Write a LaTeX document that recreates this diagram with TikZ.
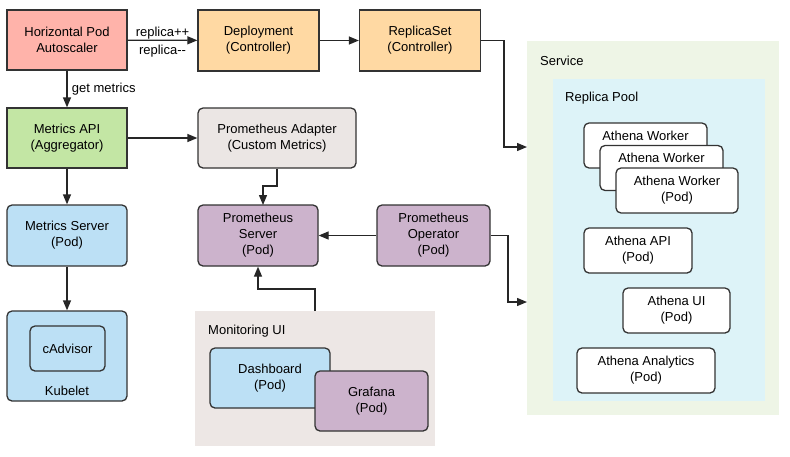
\documentclass[tikz,border=0pt]{standalone}
\usepackage{fontspec}
\setmainfont{Liberation Sans}
\usepackage{tikz}
\usetikzlibrary{arrows.meta}

\definecolor{hpared}{HTML}{FFB3AA}
\definecolor{ctrlorange}{HTML}{FFD9A3}
\definecolor{aggrgreen}{HTML}{C3E6A4}
\definecolor{adaptgray}{HTML}{EBE6E4}
\definecolor{podblue}{HTML}{BCE0F5}
\definecolor{prompurple}{HTML}{CCB3CC}
\definecolor{monigray}{HTML}{EDE7E5}
\definecolor{svcgreen}{HTML}{EEF5E6}
\definecolor{poolblue}{HTML}{DDF3F8}
\definecolor{edgegray}{HTML}{333333}

\begin{document}
\begin{tikzpicture}[x=1pt,y=-1pt,font=\fontsize{13}{16}\selectfont,
  blk/.style n args={3}{fill=#1,minimum width=#2,minimum height=#3,draw=edgegray,line width=1.3pt,align=center,rectangle},
  pod/.style n args={3}{blk={#1}{#2}{#3},rounded corners=5pt},
  conn/.style={draw=black!85,line width=1.3pt,-{Triangle[length=10pt,width=8pt]}},
  lbl/.style={inner sep=0pt,anchor=west}]
\useasboundingbox[fill=white] (0,0) rectangle (790,456);
% containers
\fill[svcgreen] (527,41) rectangle (779,415);
\fill[poolblue] (553,79) rectangle (765,401);
\fill[monigray] (195,311) rectangle (435,446);
\node[lbl] (svclbl) at (540,61) {Service};
\node[lbl] (poollbl) at (565,98) {Replica Pool};
\node[lbl] (monilbl) at (208,331) {Monitoring UI};
% control path
\node[blk={hpared}{120pt}{60pt}] (hpa) at (67,40) {Horizontal Pod\\Autoscaler};
\node[blk={ctrlorange}{121pt}{61pt}] (deploy) at (258.5,40.5) {Deployment\\(Controller)};
\node[blk={ctrlorange}{121pt}{61pt}] (rset) at (420,40.5) {ReplicaSet\\(Controller)};
\node[blk={aggrgreen}{120pt}{60pt}] (mapi) at (67,138) {Metrics API\\(Aggregator)};
\node[pod={adaptgray}{158pt}{60pt}] (padapt) at (277,138) {Prometheus Adapter\\(Custom Metrics)};
\node[pod={podblue}{120pt}{61pt}] (mserver) at (67,235.5) {Metrics Server\\(Pod)};
\node[pod={podblue}{120pt}{90pt}] (kubelet) at (67,356) {};
\node[pod={podblue}{75pt}{45pt}] (cadv) at (67.5,348.5) {cAdvisor};
\node (kubeletlbl) at (67,391) {Kubelet};
\node[pod={prompurple}{120pt}{61pt}] (pserver) at (258,235.5) {Prometheus\\Server\\(Pod)};
\node[pod={prompurple}{113pt}{61pt}] (poper) at (433.5,235.5) {Prometheus\\Operator\\(Pod)};
\node[pod={podblue}{120pt}{60pt}] (dash) at (270,378) {Dashboard\\(Pod)};
\node[pod={prompurple}{113pt}{60pt}] (grafana) at (371.5,401) {Grafana\\(Pod)};
% replica pool
\node[pod={white}{123pt}{45pt}] (wk1) at (645.5,145.5) {};
\node (wk1txt) at (645.5,135.5) {Athena Worker};
\node[pod={white}{123pt}{45pt}] (wk2) at (661.5,168) {};
\node (wk2txt) at (661.5,158) {Athena Worker};
\node[pod={white}{122pt}{45pt}] (wk3) at (677,190.5) {Athena Worker\\(Pod)};
\node[pod={white}{108pt}{45pt}] (api) at (638,250.5) {Athena API\\(Pod)};
\node[pod={white}{107pt}{45pt}] (aui) at (676.5,310.5) {Athena UI\\(Pod)};
\node[pod={white}{138pt}{45pt}] (analytics) at (646,370.5) {Athena Analytics\\(Pod)};
% connectors
\coordinate (svcin1) at (527,147);
\coordinate (svcin2) at (527,302);
\draw[conn] (hpa) -- (deploy)
  node[pos=0.5,above=-3pt] (plus) {replica++}
  node[pos=0.5,below=1pt] (minus) {replica-{}-};
\draw[conn] (deploy) -- (rset);
\draw[conn] (rset.east) -| (504,147) -- (svcin1);
\draw[conn] (hpa) -- node[right=1pt] (getm) {get metrics} (mapi);
\draw[conn] (mapi) -- (padapt);
\draw[conn] (mapi) -- (mserver);
\draw[conn] (mserver) -- (kubelet);
\draw[conn] (padapt.south) |- (263,186) -- (263,205);
\draw[conn] (poper) -- (pserver);
\draw[conn] (poper.east) -| (508,302) -- (svcin2);
\draw[conn] (315,311) |- (258,289) -- (pserver.south -| 258,0);
\end{tikzpicture}
\end{document}
